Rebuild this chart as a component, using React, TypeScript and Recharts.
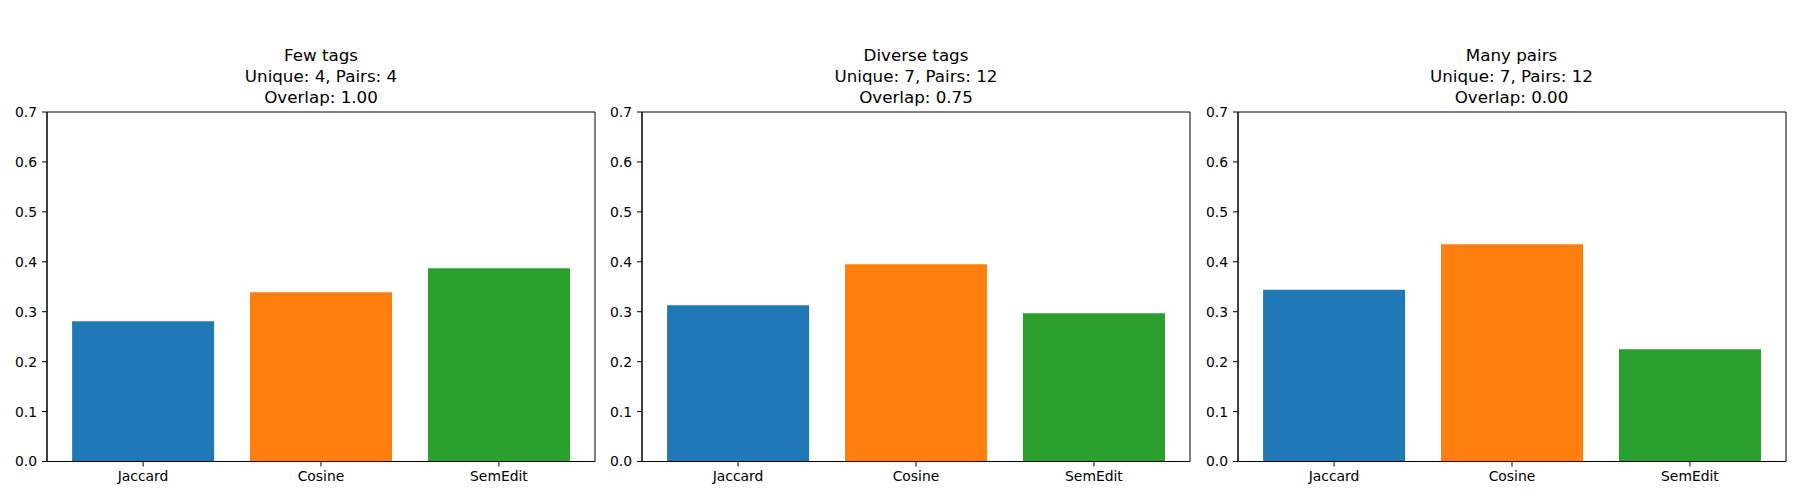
import { BarChart, Bar, XAxis, YAxis, Cell, ReferenceArea } from 'recharts';

const metrics = ['Jaccard', 'Cosine', 'SemEdit'];
const barColors = ['#1f77b4', '#ff7f0e', '#2ca02c'];
const yTicks = [0, 0.1, 0.2, 0.3, 0.4, 0.5, 0.6, 0.7];

const fewTags = [0.281, 0.339, 0.387];
const diverseTags = [0.313, 0.395, 0.297];
const manyPairs = [0.344, 0.435, 0.225];

const panelTitles = [
  ['Few tags', 'Unique: 4, Pairs: 4', 'Overlap: 1.00'],
  ['Diverse tags', 'Unique: 7, Pairs: 12', 'Overlap: 0.75'],
  ['Many pairs', 'Unique: 7, Pairs: 12', 'Overlap: 0.00'],
];

const panelValues = [fewTags, diverseTags, manyPairs];
const panelLeft = [0, 595, 1190.5];

const X_DOMAIN: [number, number] = [-0.54, 2.54];
const Y_DOMAIN: [number, number] = [0, 0.7];

const FONT = '"DejaVu Sans", sans-serif';
const tickStyle = { fontSize: 13.9, fill: '#000', fontFamily: FONT };

interface PanelProps {
  values: number[];
  title: string[];
  left: number;
}

function Panel({ values, title, left }: PanelProps) {
  const data = metrics.map((name, i) => ({ idx: i, name, value: values[i] }));
  return (
    <div style={{ position: 'absolute', left, top: 0, width: 600, height: 500 }}>
      <div
        style={{
          position: 'absolute',
          left: 47,
          width: 548,
          top: 44.5,
          textAlign: 'center',
          fontFamily: FONT,
          fontSize: 16.7,
          lineHeight: '21px',
          color: '#000',
        }}
      >
        {title.map((t) => (
          <div key={t}>{t}</div>
        ))}
      </div>
      <BarChart width={600} height={500} data={data} margin={{ top: 112, right: 5, bottom: 0, left: 0 }}>
        <XAxis
          dataKey="idx"
          type="number"
          domain={X_DOMAIN}
          ticks={[0, 1, 2]}
          tickFormatter={(v: number) => metrics[v] ?? ''}
          allowDataOverflow
          height={38.5}
          tick={tickStyle}
          tickSize={5}
          tickMargin={5}
          stroke="#000"
          tickLine={{ stroke: '#000' }}
        />
        <YAxis
          type="number"
          domain={Y_DOMAIN}
          ticks={yTicks}
          tickFormatter={(v: number) => v.toFixed(1)}
          allowDataOverflow
          width={47}
          tick={tickStyle}
          tickSize={5}
          tickMargin={5}
          stroke="#000"
          tickLine={{ stroke: '#000' }}
        />
        <Bar dataKey="value" barSize={142} isAnimationActive={false}>
          {data.map((d, i) => (
            <Cell key={d.name} fill={barColors[i]} />
          ))}
        </Bar>
        {/* axes frame, like matplotlib spines */}
        <ReferenceArea
          x1={X_DOMAIN[0]}
          x2={X_DOMAIN[1]}
          y1={Y_DOMAIN[0]}
          y2={Y_DOMAIN[1]}
          fill="none"
          fillOpacity={0}
          stroke="#000"
          strokeWidth={1}
          ifOverflow="visible"
        />
      </BarChart>
    </div>
  );
}

export default function App() {
  return (
    <div style={{ position: 'absolute', left: 0, top: 0, width: 1800, height: 500, background: '#fff' }}>
      {panelValues.map((vals, i) => (
        <Panel key={i} values={vals} title={panelTitles[i]} left={panelLeft[i]} />
      ))}
    </div>
  );
}
